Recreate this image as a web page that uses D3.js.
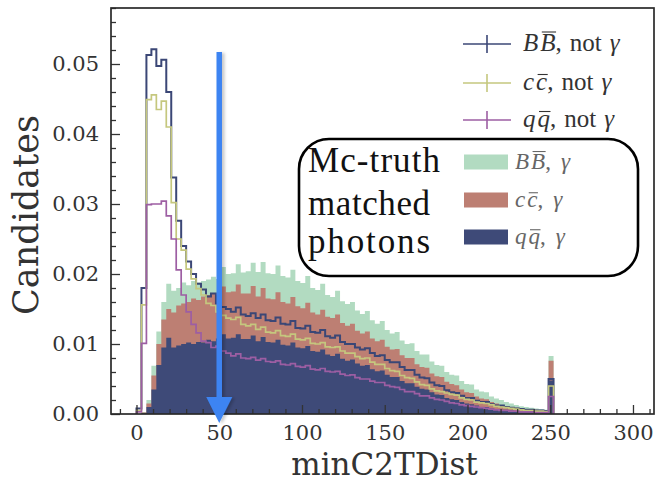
<!DOCTYPE html>
<html>
<head>
<meta charset="utf-8">
<script src="https://cdn.jsdelivr.net/npm/d3@7"></script>
<style>
    body { margin: 0; background: #fff; }
    .axis text { font-family: "DejaVu Serif", serif; font-size: 21px; fill: #333; }
    .axis path.domain { display: none; }
    .axis line { stroke: #333; stroke-width: 1.3px; }
    .lbl { font-family: "DejaVu Serif", serif; fill: #333; }
    .leg { font-family: "Liberation Serif", serif; }
    .box-text { font-family: "Liberation Serif", serif; font-size: 35px; fill: #111; }
</style>
</head>
<body>
<div id="chart"></div>
<script>
// histogram binning: lower edges, width 3
const binWidth = 3;
const binStarts = [0, 3, 6, 9, 12, 15, 18, 21, 24, 27, 30, 33, 36, 39, 42, 45, 48, 51, 54, 57,
    60, 63, 66, 69, 72, 75, 78, 81, 84, 87, 90, 93, 96, 99, 102, 105, 108, 111, 114, 117,
    120, 123, 126, 129, 132, 135, 138, 141, 144, 147, 150, 153, 156, 159, 162, 165, 168, 171, 174, 177,
    180, 183, 186, 189, 192, 195, 198, 201, 204, 207, 210, 213, 216, 219, 222, 225, 228, 231, 234, 237,
    240, 243, 246, 249];

// not gamma (step outlines)
const bbNotGamma = [0.0008, 0.0180, 0.0513, 0.0521, 0.0497, 0.0506, 0.0460, 0.0338, 0.0276, 0.0240,
    0.0218, 0.0200, 0.0186, 0.0178, 0.0168, 0.0172, 0.0158, 0.0153, 0.0150, 0.0146,
    0.0152, 0.0142, 0.0140, 0.0144, 0.0137, 0.0142, 0.0134, 0.0133, 0.0138, 0.0129,
    0.0128, 0.0133, 0.0123, 0.0122, 0.0126, 0.0117, 0.0116, 0.0120, 0.0111, 0.0109,
    0.0112, 0.0103, 0.0100, 0.0100, 0.0095, 0.0092, 0.0094, 0.0087, 0.0083, 0.0084,
    0.0077, 0.0074, 0.0074, 0.0067, 0.0063, 0.0063, 0.0056, 0.0052, 0.0051, 0.0045,
    0.0041, 0.0040, 0.0034, 0.0031, 0.0030, 0.0026, 0.0023, 0.0023, 0.0019, 0.0017,
    0.0017, 0.0014, 0.0012, 0.0012, 0.0010, 0.0009, 0.0008, 0.0007, 0.0006, 0.0006,
    0.0005, 0.0005, 0.0004, 0.0050];
const ccNotGamma = [0.0005, 0.0156, 0.0449, 0.0456, 0.0435, 0.0447, 0.0410, 0.0302, 0.0250, 0.0234,
    0.0207, 0.0193, 0.0179, 0.0170, 0.0158, 0.0155, 0.0146, 0.0141, 0.0137, 0.0135,
    0.0138, 0.0128, 0.0126, 0.0128, 0.0121, 0.0124, 0.0117, 0.0116, 0.0119, 0.0112,
    0.0111, 0.0114, 0.0107, 0.0106, 0.0108, 0.0101, 0.0100, 0.0102, 0.0096, 0.0095,
    0.0096, 0.0090, 0.0087, 0.0087, 0.0082, 0.0079, 0.0080, 0.0074, 0.0071, 0.0071,
    0.0065, 0.0062, 0.0061, 0.0055, 0.0052, 0.0051, 0.0046, 0.0042, 0.0041, 0.0036,
    0.0033, 0.0032, 0.0030, 0.0028, 0.0027, 0.0023, 0.0021, 0.0020, 0.0017, 0.0016,
    0.0015, 0.0013, 0.0011, 0.0010, 0.0009, 0.0008, 0.0007, 0.0006, 0.0005, 0.0005,
    0.0004, 0.0004, 0.0003, 0.0040];
const qqNotGamma = [0.0003, 0.0101, 0.0299, 0.0300, 0.0300, 0.0304, 0.0283, 0.0250, 0.0206, 0.0170,
    0.0146, 0.0128, 0.0116, 0.0104, 0.0102, 0.0095, 0.0097, 0.0090, 0.0087, 0.0083,
    0.0086, 0.0080, 0.0079, 0.0081, 0.0077, 0.0079, 0.0075, 0.0074, 0.0076, 0.0071,
    0.0070, 0.0072, 0.0068, 0.0067, 0.0069, 0.0064, 0.0063, 0.0065, 0.0061, 0.0060,
    0.0061, 0.0057, 0.0055, 0.0056, 0.0052, 0.0050, 0.0050, 0.0047, 0.0045, 0.0045,
    0.0041, 0.0039, 0.0038, 0.0035, 0.0032, 0.0032, 0.0029, 0.0026, 0.0026, 0.0023,
    0.0021, 0.0020, 0.0018, 0.0016, 0.0015, 0.0013, 0.0012, 0.0011, 0.0010, 0.0009,
    0.0008, 0.0007, 0.0006, 0.0005, 0.0005, 0.0004, 0.0004, 0.0003, 0.0003, 0.0003,
    0.0002, 0.0002, 0.0002, 0.0025];

// mc-truth matched photons (filled)
const bbGamma = [0, 0.0003, 0.0020, 0.0069, 0.0118, 0.0160, 0.0186, 0.0176, 0.0180, 0.0188,
    0.0184, 0.0190, 0.0188, 0.0190, 0.0192, 0.0196, 0.0193, 0.0210, 0.0200, 0.0201,
    0.0214, 0.0202, 0.0204, 0.0216, 0.0203, 0.0217, 0.0201, 0.0200, 0.0212, 0.0197,
    0.0195, 0.0206, 0.0190, 0.0187, 0.0197, 0.0180, 0.0177, 0.0186, 0.0170, 0.0167,
    0.0176, 0.0161, 0.0157, 0.0160, 0.0148, 0.0143, 0.0147, 0.0134, 0.0129, 0.0133,
    0.0120, 0.0115, 0.0117, 0.0105, 0.0100, 0.0101, 0.0090, 0.0085, 0.0085, 0.0075,
    0.0070, 0.0069, 0.0060, 0.0056, 0.0055, 0.0047, 0.0043, 0.0042, 0.0035, 0.0032,
    0.0031, 0.0025, 0.0022, 0.0020, 0.0017, 0.0015, 0.0013, 0.0011, 0.0010, 0.0009,
    0.0008, 0.0007, 0.0006, 0.0083];
const ccGamma = [0, 0.0002, 0.0015, 0.0055, 0.0100, 0.0135, 0.0150, 0.0145, 0.0155, 0.0158,
    0.0160, 0.0165, 0.0163, 0.0168, 0.0170, 0.0172, 0.0170, 0.0182, 0.0174, 0.0175,
    0.0185, 0.0172, 0.0172, 0.0183, 0.0168, 0.0180, 0.0165, 0.0164, 0.0174, 0.0160,
    0.0158, 0.0167, 0.0154, 0.0151, 0.0159, 0.0145, 0.0142, 0.0149, 0.0139, 0.0137,
    0.0142, 0.0130, 0.0126, 0.0129, 0.0119, 0.0115, 0.0118, 0.0108, 0.0104, 0.0106,
    0.0096, 0.0092, 0.0093, 0.0084, 0.0080, 0.0080, 0.0071, 0.0067, 0.0066, 0.0058,
    0.0054, 0.0053, 0.0046, 0.0043, 0.0041, 0.0035, 0.0031, 0.0030, 0.0025, 0.0022,
    0.0021, 0.0017, 0.0015, 0.0013, 0.0011, 0.0010, 0.0009, 0.0008, 0.0007, 0.0006,
    0.0006, 0.0005, 0.0005, 0.0076];
const qqGamma = [0, 0.0001, 0.0010, 0.0035, 0.0070, 0.0095, 0.0109, 0.0095, 0.0098, 0.0100,
    0.0102, 0.0100, 0.0103, 0.0102, 0.0106, 0.0104, 0.0108, 0.0114, 0.0108, 0.0109,
    0.0114, 0.0107, 0.0107, 0.0112, 0.0104, 0.0110, 0.0103, 0.0102, 0.0106, 0.0099,
    0.0098, 0.0102, 0.0095, 0.0094, 0.0097, 0.0090, 0.0089, 0.0092, 0.0085, 0.0083,
    0.0086, 0.0079, 0.0076, 0.0078, 0.0072, 0.0069, 0.0070, 0.0064, 0.0061, 0.0062,
    0.0056, 0.0053, 0.0053, 0.0047, 0.0044, 0.0044, 0.0039, 0.0036, 0.0035, 0.0031,
    0.0028, 0.0027, 0.0023, 0.0021, 0.0020, 0.0017, 0.0015, 0.0014, 0.0012, 0.0010,
    0.0010, 0.0008, 0.0007, 0.0006, 0.0006, 0.0005, 0.0004, 0.0004, 0.0003, 0.0003,
    0.0003, 0.0002, 0.0002, 0.0048];

const xTicks = [0, 50, 100, 150, 200, 250, 300];
const yTicks = [0.00, 0.01, 0.02, 0.03, 0.04, 0.05];
const cutValue = 50;

const lineSeries = [
    {sym: "B", vals: bbNotGamma, color: "#3b4776", width: 2},
    {sym: "c", vals: ccNotGamma, color: "#c5c77e", width: 1.7},
    {sym: "q", vals: qqNotGamma, color: "#9d5ea3", width: 1.7}
];
const fillSeries = [
    {sym: "B", vals: bbGamma, color: "#b2dbc1"},
    {sym: "c", vals: ccGamma, color: "#bd7f73"},
    {sym: "q", vals: qqGamma, color: "#3e4a78"}
];
const boxLines = ["Mc-truth", "matched", "photons"];

let margin = {top: 8, right: 1, bottom: 68, left: 111};
let width = 655 - margin.left - margin.right;
let height = 482 - margin.top - margin.bottom;

let svg = d3.select("#chart").append("svg")
    .attr("width", 655)
    .attr("height", 482);

let defs = svg.append("defs");
defs.append("clipPath").attr("id", "plotclip")
    .append("rect").attr("width", width).attr("height", height);
let shadow = defs.append("filter").attr("id", "shadow")
    .attr("x", "-50%").attr("y", "-10%").attr("width", "200%").attr("height", "120%");
shadow.append("feDropShadow").attr("dx", 2.5).attr("dy", 1)
    .attr("stdDeviation", 1.6).attr("flood-color", "#000").attr("flood-opacity", 0.22);

let g = svg.append("g").attr("transform", `translate(${margin.left},${margin.top})`);

let x = d3.scaleLinear().domain([-15.4, 312.7]).range([0, width]);
let y = d3.scaleLinear().domain([0, 0.058]).range([height, 0]);

// step points: up from zero, across each bin, back down at the end
function stepPoints(vals) {
    let last = binStarts[binStarts.length - 1] + binWidth;
    let pts = [[binStarts[0], 0]];
    vals.forEach((v, i) => pts.push([binStarts[i], v]));
    pts.push([last, vals[vals.length - 1]]);
    pts.push([last, 0]);
    return pts;
}

let area = d3.area()
    .curve(d3.curveStepAfter)
    .x(d => x(d[0]))
    .y0(y(0))
    .y1(d => y(d[1]));

let line = d3.line()
    .curve(d3.curveStepAfter)
    .x(d => x(d[0]))
    .y(d => y(d[1]));

let plot = g.append("g").attr("clip-path", "url(#plotclip)");

plot.selectAll(".fillhist")
    .data(fillSeries)
    .enter()
    .append("path")
    .attr("class", "fillhist")
    .attr("d", d => area(stepPoints(d.vals)))
    .attr("fill", d => d.color);

plot.selectAll(".stephist")
    .data(lineSeries)
    .enter()
    .append("path")
    .attr("class", "stephist")
    .attr("d", d => line(stepPoints(d.vals)))
    .attr("fill", "none")
    .attr("stroke", d => d.color)
    .attr("stroke-width", d => d.width);

// axes, ticks pointing in
let xMinor = d3.range(-10, 311, 10).filter(v => v % 50 !== 0);
let yMinor = d3.range(0, 0.0581, 0.002).filter(v => Math.abs(v * 100 - Math.round(v * 100)) > 1e-6);

g.append("g").attr("class", "axis")
    .attr("transform", `translate(0,${height})`)
    .call(d3.axisBottom(x).tickValues(xMinor).tickSizeInner(-5).tickSizeOuter(0).tickFormat(""));
g.append("g").attr("class", "axis")
    .attr("transform", `translate(0,${height})`)
    .call(d3.axisBottom(x).tickValues(xTicks).tickSizeInner(-9).tickSizeOuter(0).tickPadding(11)
        .tickFormat(d3.format("d")));
g.append("g").attr("class", "axis")
    .call(d3.axisLeft(y).tickValues(yMinor).tickSizeInner(-5).tickSizeOuter(0).tickFormat(""));
g.append("g").attr("class", "axis")
    .call(d3.axisLeft(y).tickValues(yTicks).tickSizeInner(-9).tickSizeOuter(0).tickPadding(12)
        .tickFormat(d3.format(".2f")));

g.append("rect")
    .attr("width", width).attr("height", height)
    .attr("fill", "none").attr("stroke", "#2a2a2a").attr("stroke-width", 1.7);

// axis titles
svg.append("text").attr("class", "lbl")
    .attr("font-size", 35)
    .attr("transform", `translate(38,${margin.top + height / 2 + 4}) rotate(-90)`)
    .attr("text-anchor", "middle")
    .text("Candidates");
svg.append("text").attr("class", "lbl")
    .attr("font-size", 31)
    .attr("x", margin.left + width / 2 + 2).attr("y", 474.5)
    .attr("text-anchor", "middle")
    .text("minC2TDist");

// cut arrow
let ax = x(cutValue);
let arrow = g.append("g").attr("filter", "url(#shadow)");
arrow.append("line")
    .attr("x1", ax).attr("x2", ax)
    .attr("y1", 44).attr("y2", 392)
    .attr("stroke", "#3d84f2").attr("stroke-width", 5.5);
arrow.append("path")
    .attr("d", `M${ax - 13},${389} L${ax + 13},${389} L${ax},${415} Z`)
    .attr("fill", "#3d84f2");

// label like  X Xbar, [not] gamma  -- the bar is drawn as a line over the 2nd letter
function legendLabel(sel, sym, tail, color, x0, y0, size, gap) {
    let t = sel.append("text").attr("class", "leg")
        .attr("fill", color).attr("font-size", size)
        .attr("x", x0).attr("y", y0);
    t.append("tspan").attr("font-style", "italic").text(sym);
    t.append("tspan").attr("font-style", "italic").attr("dx", 2).text(sym);
    t.append("tspan").text(",");
    if (tail) t.append("tspan").attr("dx", gap).text(tail);
    t.append("tspan").attr("dx", gap).attr("font-style", "italic").text("\u03b3");

    let ext = t.node().getExtentOfChar(1);
    let barY = sym === "B" ? y0 - size * 0.76 : y0 - size * 0.62;
    sel.append("line")
        .attr("x1", ext.x + 1.5).attr("x2", ext.x + ext.width + 0.5)
        .attr("y1", barY).attr("y2", barY)
        .attr("stroke", color).attr("stroke-width", 1.1);
    return t;
}

let legLines = svg.append("g");
let lineRowY = [44, 83, 120];
lineSeries.forEach((s, i) => {
    let ry = lineRowY[i];
    legLines.append("line").attr("x1", 463).attr("x2", 511).attr("y1", ry).attr("y2", ry)
        .attr("stroke", s.color).attr("stroke-width", 1.6);
    legLines.append("line").attr("x1", 487).attr("x2", 487).attr("y1", ry - 9).attr("y2", ry + 9)
        .attr("stroke", s.color).attr("stroke-width", 1.6);
    legendLabel(legLines, s.sym, "not", "#333", 523, ry + 7, 25, 8);
});

// annotation box with filled legend
let box = svg.append("g");
box.append("rect")
    .attr("x", 299).attr("y", 139).attr("width", 339).attr("height", 137)
    .attr("rx", 30).attr("ry", 30)
    .attr("fill", "none").attr("stroke", "#000").attr("stroke-width", 2.6);
let boxY = [172, 215, 253];
let boxLen = [132, 122, 122];
boxLines.forEach((txt, i) => {
    box.append("text").attr("class", "box-text")
        .attr("x", 308).attr("y", boxY[i])
        .attr("textLength", boxLen[i]).attr("lengthAdjust", "spacing")
        .text(txt);
});
let fillRowY = [162, 200, 237];
fillSeries.forEach((s, i) => {
    let ry = fillRowY[i];
    box.append("rect").attr("x", 464).attr("y", ry - 7.5).attr("width", 44).attr("height", 15)
        .attr("fill", s.color);
    legendLabel(box, s.sym, null, "#666", 515, ry + 7, 23, 10);
});
</script>
</body>
</html>
